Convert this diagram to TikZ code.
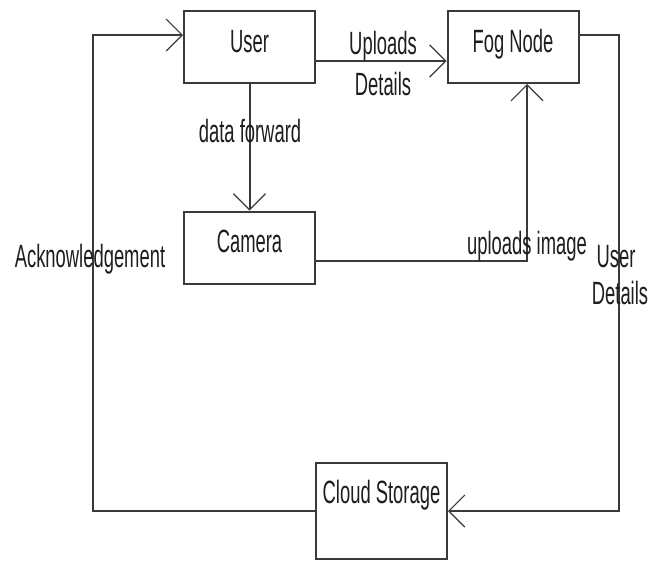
\documentclass[tikz,border=0pt]{standalone}
\usepackage{fontspec}
\usepackage{graphicx}
\setmainfont{Liberation Sans}
\usetikzlibrary{arrows.meta}
\definecolor{linegray}{HTML}{3A3A3A}
\definecolor{inkgray}{HTML}{1E1E1E}
% tall, narrow lettering
\newcommand\tallText[1]{\scalebox{1}[1.75]{#1}}
\tikzset{
  box/.style={draw=linegray, line width=2pt, fill=white, inner sep=0pt,
    minimum width=131pt, minimum height=72pt,
    text height=25pt, text depth=15pt, text=inkgray,
    font=\fontsize{18.4}{20}\selectfont},
  lbl/.style={inner sep=0pt, anchor=base, text=inkgray,
    font=\fontsize{18.4}{20}\selectfont},
  link/.style={draw=linegray, line width=2pt},
  flow/.style={link, -{Straight Barb[length=16pt, width=32pt, line width=1.2pt]}}
}
\begin{document}
\begin{tikzpicture}[x=1pt, y=-1pt]
  \fill[white] (0,0) rectangle (664,560);
  \useasboundingbox (0,0) rectangle (664,560);

  % boxes
  \node[box] (user)   at (249.5,47)  {\tallText{User}};
  \node[box] (fog)    at (513,47)    {\tallText{Fog Node}};
  \node[box] (camera) at (249.5,247.5) {\tallText{Camera}};
  \node[box, minimum height=96pt, text height=8pt, text depth=24pt]
        (cloud) at (381.5,511) {\tallText{Cloud Storage}};

  % routing corners
  \coordinate (rt) at (619,35);
  \coordinate (lt) at (93,35);

  % connectors
  \draw[flow] ([yshift=-14pt]user.east) -- ([yshift=-14pt]fog.west);
  \draw[flow] (user.south) -- (camera.north);
  \draw[flow] ([yshift=-13.5pt]camera.east) -| ([xshift=14pt]fog.south);
  \draw[flow] ([yshift=12pt]fog.east) -- (rt) |- (cloud.east);
  \draw[flow] (cloud.west) -| (lt) -- ([yshift=12pt]user.west);

  % connector labels
  \node[lbl] (l1) at (383,54)  {\tallText{Uploads}};
  \node[lbl] (l2) at (383,95)  {\tallText{Details}};
  \node[lbl] (l3) at (250,142) {\tallText{data forward}};
  \node[lbl] (l4) at (527,254) {\tallText{uploads image}};
  \node[lbl] (l5) at (616,267) {\tallText{User}};
  \node[lbl] (l6) at (620,304) {\tallText{Details}};
  \node[lbl] (l7) at (90,267)  {\tallText{Acknowledgement}};
\end{tikzpicture}
\end{document}
